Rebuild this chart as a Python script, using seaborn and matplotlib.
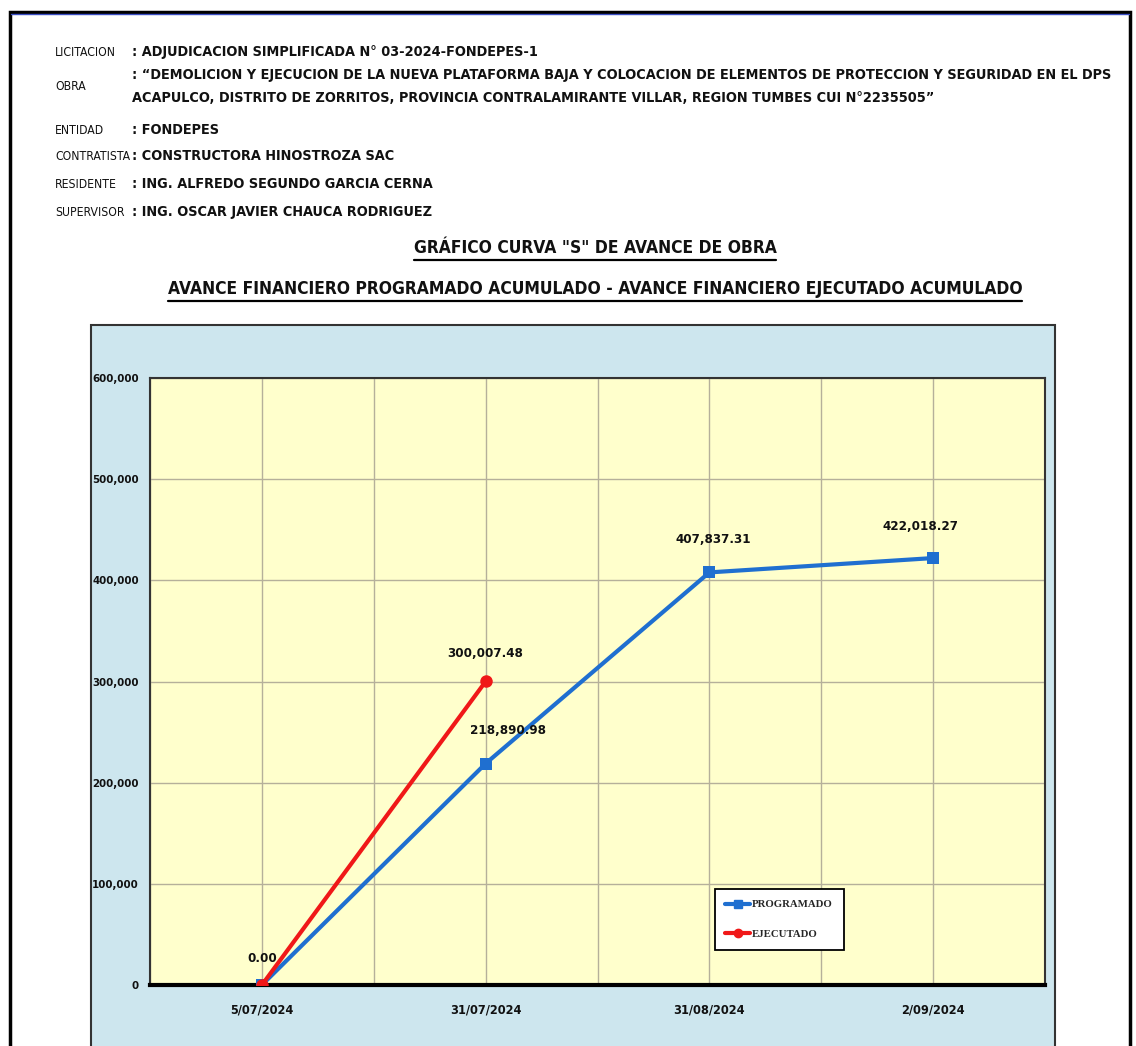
import numpy as np
import pandas as pd
import matplotlib
matplotlib.use('Agg')
import matplotlib.pyplot as plt
from matplotlib.lines import Line2D
from matplotlib.patches import Rectangle
from matplotlib.ticker import FuncFormatter, MultipleLocator
import seaborn as sns

# Datos de la curva S
fechas = ['5/07/2024', '31/07/2024', '31/08/2024', '2/09/2024']
programado = [0.00, 218890.98, 407837.31, 422018.27]
ejecutado = [0.00, 300007.48]

# Datos del encabezado
campos = ['LICITACION', 'OBRA', 'ENTIDAD', 'CONTRATISTA', 'RESIDENTE', 'SUPERVISOR']
valores = [
    ': ADJUDICACION SIMPLIFICADA N° 03-2024-FONDEPES-1',
    ': “DEMOLICION Y EJECUCION DE LA NUEVA PLATAFORMA BAJA Y COLOCACION DE ELEMENTOS DE PROTECCION Y SEGURIDAD EN EL DPS\n'
    'ACAPULCO, DISTRITO DE ZORRITOS, PROVINCIA CONTRALAMIRANTE VILLAR, REGION TUMBES CUI N°2235505”',
    ': FONDEPES',
    ': CONSTRUCTORA HINOSTROZA SAC',
    ': ING. ALFREDO SEGUNDO GARCIA CERNA',
    ': ING. OSCAR JAVIER CHAUCA RODRIGUEZ',
]
titulo1 = 'GRÁFICO CURVA "S" DE AVANCE DE OBRA'
titulo2 = 'AVANCE FINANCIERO PROGRAMADO ACUMULADO - AVANCE FINANCIERO EJECUTADO ACUMULADO'
y_ticks = [0, 100000, 200000, 300000, 400000, 500000, 600000]

sns.set_theme(style='white')
plt.rcParams['font.family'] = ['Liberation Sans Narrow', 'DejaVu Sans']
plt.rcParams['font.stretch'] = 'condensed'

W, H = 1136, 1046
fig = plt.figure(figsize=(W / 100, H / 100), dpi=100)
fig.patch.set_facecolor('white')
renderer = fig.canvas.get_renderer()


def fx(px):
    return px / W


def fy(py):
    return 1 - py / H


def tam(texto, ancho, weight='bold', family=None):
    # tamaño de letra para que el texto ocupe 'ancho' pixeles
    kw = {'fontsize': 10, 'fontweight': weight}
    if family:
        kw['family'] = family
    t = fig.text(0, 0, texto, **kw)
    w = t.get_window_extent(renderer).width
    t.remove()
    return 10 * ancho / w


# marco exterior
fig.add_artist(Rectangle((fx(10), -0.05), fx(1120), fy(12) + 0.05, transform=fig.transFigure,
                         fill=False, edgecolor='black', lw=2.5))
fig.add_artist(Line2D([fx(11), fx(1129)], [fy(14), fy(14)], transform=fig.transFigure,
                      color='#3b4fc4', lw=1))

# encabezado
fs_campo = tam('CONTRATISTA', 75, weight='normal')
l1, l2 = valores[1].split('\n')
fs_valor = tam(l1, 980)
filas_y = [52, 87, 130, 156, 184, 212]
for campo, valor, yy in zip(campos, valores, filas_y):
    fig.text(fx(55), fy(yy), campo, fontsize=fs_campo, va='center', ha='left', color='#111111')
    if '\n' in valor:
        fig.text(fx(132), fy(75), l1, fontsize=fs_valor, fontweight='bold', va='center', color='#111111')
        fig.text(fx(132), fy(98), l2, fontsize=fs_valor, fontweight='bold', va='center', color='#111111')
    else:
        fig.text(fx(132), fy(yy), valor, fontsize=fs_valor, fontweight='bold', va='center', color='#111111')

# titulos subrayados
fs_tit = tam(titulo2, 850)
for texto, yy in [(titulo1, 248), (titulo2, 289)]:
    t = fig.text(fx(595), fy(yy), texto, fontsize=fs_tit, fontweight='bold', ha='center', va='center',
                 color='#111111')
    bb = t.get_window_extent(renderer).transformed(fig.transFigure.inverted())
    fig.add_artist(Line2D([bb.x0, bb.x1], [bb.y0 - 0.003, bb.y0 - 0.003],
                          transform=fig.transFigure, color='black', lw=1.6))

# fondo celeste del grafico
fig.add_artist(Rectangle((fx(91), -0.05), fx(964), fy(325) + 0.05, transform=fig.transFigure,
                         facecolor='#cde6ee', edgecolor='#333333', lw=1.5, zorder=0))

ax = fig.add_axes([fx(150), fy(985), fx(895), fy(378) - fy(985)])
ax.set_facecolor('#ffffcc')

df_prog = pd.DataFrame({'fecha': fechas, 'monto': programado})
df_ejec = pd.DataFrame({'fecha': fechas[:len(ejecutado)], 'monto': ejecutado})

sns.lineplot(data=df_prog, x='fecha', y='monto', sort=False, color='#1f6fd0', lw=3,
             marker='s', markersize=9, markeredgewidth=0, ax=ax, zorder=3)
sns.lineplot(data=df_ejec, x='fecha', y='monto', sort=False, color='#f01818', lw=3,
             marker='o', markersize=9, markeredgewidth=0, ax=ax, zorder=4)

fs_eje_y = tam('600,000', 47)
fs_eje_x = tam('31/07/2024', 72)
fs_dato = tam('422,018.27', 76)

ax.set_xlim(-0.5, len(fechas) - 0.5)
ax.set_ylim(y_ticks[0], y_ticks[-1])
ax.set_yticks(y_ticks)
ax.yaxis.set_major_formatter(FuncFormatter(lambda v, p: f'{v:,.0f}'))
ax.xaxis.set_minor_locator(MultipleLocator(0.5))
ax.grid(True, which='both', axis='x', color='#b5b09a', lw=1)
ax.grid(True, which='major', axis='y', color='#b5b09a', lw=1)
ax.set_axisbelow(True)
ax.set_xlabel('')
ax.set_ylabel('')
ax.tick_params(axis='both', which='both', length=0, colors='#111111')
ax.tick_params(axis='y', pad=8, labelsize=fs_eje_y)
ax.tick_params(axis='x', pad=13, labelsize=fs_eje_x)
for lab in ax.get_xticklabels() + ax.get_yticklabels():
    lab.set_fontweight('bold')
for s in ['top', 'right', 'left']:
    ax.spines[s].set_color('#333333')
    ax.spines[s].set_linewidth(1.5)
ax.spines['bottom'].set_color('black')
ax.spines['bottom'].set_linewidth(3)

# etiquetas de datos
desp_prog = [None, (16, 24), (3, 24), (-9, 23)]
for i, v in enumerate(programado):
    if desp_prog[i] is None:
        continue
    ax.annotate(f'{v:,.2f}', (i, v), xytext=desp_prog[i], textcoords='offset points',
                ha='center', va='center', fontsize=fs_dato, fontweight='bold', color='#111111', zorder=6)
desp_ejec = [(0, 19), (0, 20)]
for i, v in enumerate(ejecutado):
    ax.annotate(f'{v:,.2f}', (i, v), xytext=desp_ejec[i], textcoords='offset points',
                ha='center', va='center', fontsize=fs_dato, fontweight='bold', color='#111111', zorder=6)

serif = ['Liberation Serif', 'DejaVu Serif']
fs_ley = tam('PROGRAMADO', 80, family=serif)
handles = [Line2D([], [], color='#1f6fd0', lw=3, marker='s', markersize=6),
           Line2D([], [], color='#f01818', lw=3, marker='o', markersize=6)]
leg = ax.legend(handles, ['PROGRAMADO', 'EJECUTADO'], loc='lower left',
                bbox_to_anchor=(0.625, 0.049), frameon=True, fancybox=False,
                edgecolor='black', facecolor='white', framealpha=1, handlelength=2.3,
                labelspacing=1.9, borderpad=1.0, handletextpad=0.2,
                prop={'family': serif, 'weight': 'bold', 'size': fs_ley})
leg.get_frame().set_linewidth(1.3)

fig.savefig('out.png', dpi=100)
